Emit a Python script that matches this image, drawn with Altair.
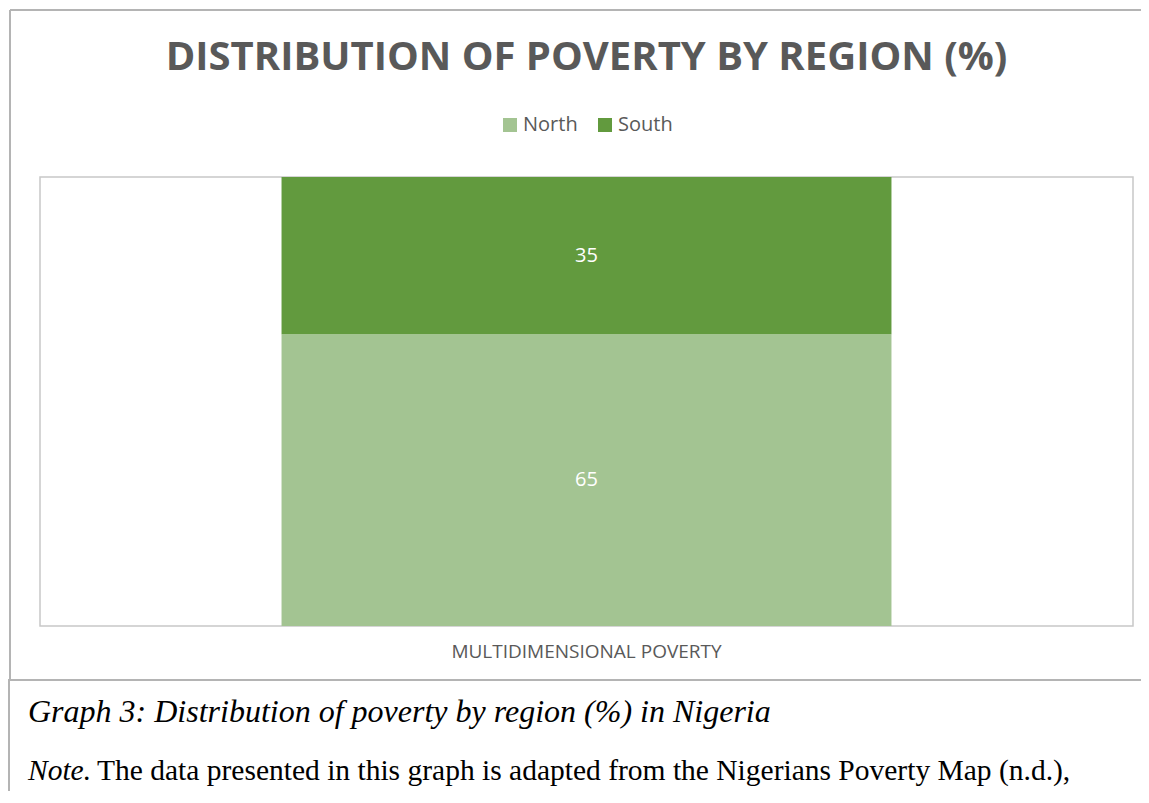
import altair as alt
import pandas as pd

categories = ["MULTIDIMENSIONAL POVERTY"]
regions = ["North", "South"]
values = [65, 35]
colors = ["#a3c492", "#629a3e"]

title_text = "DISTRIBUTION OF POVERTY BY REGION (%)"
caption_text = "Graph 3: Distribution of poverty by region (%) in Nigeria"
note_label = "Note."
note_text = "The data presented in this graph is adapted from the Nigerians Poverty Map (n.d.),"

df = pd.DataFrame({
    "cat": [categories[0]] * len(regions),
    "region": regions,
    "value": values,
    "order": list(range(len(regions))),
})

GRAY = "#595959"
FRAME = "#b4b4b4"

base = alt.Chart(df).transform_stack(
    stack="value", groupby=["cat"], as_=["v0", "v1"], sort=[alt.SortField("order")]
).transform_calculate(mid="(datum.v0 + datum.v1) / 2")

xenc = alt.X(
    "cat:N",
    sort=categories,
    scale=alt.Scale(paddingInner=0, paddingOuter=0.396),
    axis=alt.Axis(title=None, ticks=False, domain=False, labelAngle=0,
                  labelFont="Open Sans", labelFontSize=19, labelColor=GRAY,
                  labelPadding=16, labelLimit=1000),
)

bars = base.mark_bar().encode(
    x=xenc,
    y=alt.Y("v0:Q", scale=alt.Scale(domain=[0, 100], nice=False), axis=None),
    y2="v1:Q",
    color=alt.Color(
        "region:N",
        scale=alt.Scale(domain=regions, range=colors),
        legend=alt.Legend(title=None, orient="none", legendX=460, legendY=-62,
                          direction="horizontal", symbolType="square",
                          symbolSize=196, symbolStrokeWidth=0, symbolOpacity=1,
                          labelFont="Open Sans", labelFontSize=20,
                          labelColor=GRAY, columnPadding=17, labelOffset=3,
                          padding=0),
    ),
)

labels = base.mark_text(color="white", font="Open Sans", fontSize=20).encode(
    x=alt.X("cat:N", sort=categories),
    y=alt.Y("mid:Q"),
    text=alt.Text("value:Q"),
)

one = alt.Data(values=[{"k": 1}])

def hrule(x1, x2, y):
    return alt.Chart(one).mark_rule(color=FRAME, strokeWidth=2).encode(
        x=alt.value(x1), x2=alt.value(x2), y=alt.value(y))

def vrule(x, y1, y2):
    return alt.Chart(one).mark_rule(color=FRAME, strokeWidth=2).encode(
        x=alt.value(x), y=alt.value(y1), y2=alt.value(y2))

frame = [
    hrule(-30, 1101, -167),
    vrule(-30, -167, 503),
    hrule(-32, 1101, 503),
    vrule(-31, 503, 620),
]

title = alt.Chart(one).mark_text(
    font="Open Sans", fontWeight="bold", fontSize=40, color=GRAY,
    align="center", baseline="alphabetic").encode(
    x=alt.value(546.5), y=alt.value(-107), text=alt.value(title_text))

cap1 = alt.Chart(one).mark_text(
    font="Liberation Serif", fontStyle="italic", fontSize=32, color="black",
    align="left", baseline="alphabetic").encode(
    x=alt.value(-12), y=alt.value(545), text=alt.value(caption_text))
cap2 = alt.Chart(one).mark_text(
    font="Liberation Serif", fontStyle="italic", fontSize=29.5, color="black",
    align="left", baseline="alphabetic").encode(
    x=alt.value(-12), y=alt.value(603), text=alt.value(note_label))
cap3 = alt.Chart(one).mark_text(
    font="Liberation Serif", fontSize=29.5, color="black",
    align="left", baseline="alphabetic").encode(
    x=alt.value(57), y=alt.value(603), text=alt.value(note_text))

chart = alt.layer(bars, labels, *frame, title, cap1, cap2, cap3).properties(
    width=1093,
    height=449,
    padding={"left": 32, "top": 169, "right": 8, "bottom": 165},
    autosize=alt.AutoSizeParams(type="none"),
).configure_view(stroke="#c8c8c8", strokeWidth=1.5)

chart.save("out.html", embed_options={"renderer": "svg", "actions": False})
